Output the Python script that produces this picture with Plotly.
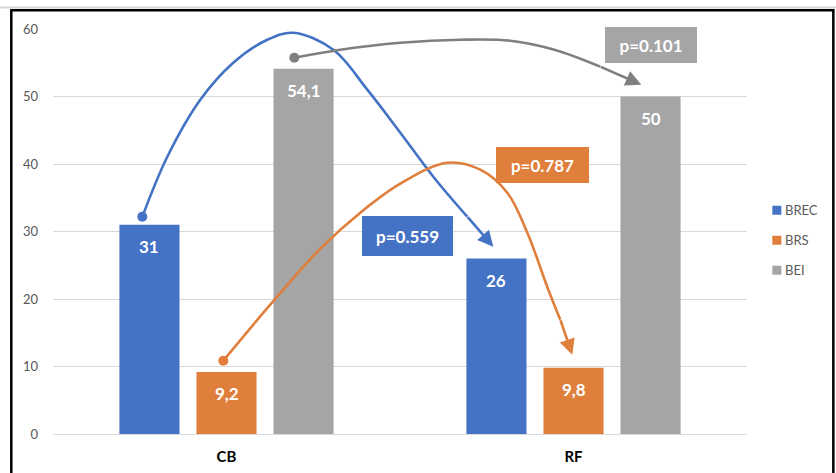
import plotly.graph_objects as go

# ---- data -------------------------------------------------------------
categories = ["CB", "RF"]
series_names = ["BREC", "BRS", "BEI"]
brec = [31, 26]
brs = [9.2, 9.8]
bei = [54.1, 50]
series_values = [brec, brs, bei]
bar_colors = ["#4472C4", "#E07E3C", "#A5A5A5"]

y_ticks = [0, 10, 20, 30, 40, 50, 60]

# comparison arcs (x = category position, y = value scale); last point is the arrow tip
brec_arc_x = [-0.2426, -0.1706, -0.0755, 0.0196, 0.1176, 0.1925, 0.3078, 0.4058, 0.5009, 0.5960, 0.6939, 0.7689]
brec_arc_y = [32.19, 41.08, 49.53, 55.01, 58.41, 59.44, 56.93, 51.01, 44.64, 38.12, 32.19, 27.75]

brs_arc_x = [-0.0092, 0.1262, 0.2703, 0.3856, 0.5009, 0.6363, 0.7314, 0.8092, 0.8669, 0.9274, 0.9620, 0.9965]
brs_arc_y = [10.86, 19.16, 27.46, 32.79, 37.09, 40.19, 39.16, 35.75, 29.82, 21.38, 16.93, 11.75]

bei_arc_x = [0.1954, 0.3280, 0.5009, 0.6738, 0.8179, 0.9475, 1.0772, 1.1954]
bei_arc_y = [55.75, 56.93, 57.96, 58.41, 58.27, 56.90, 54.42, 51.75]

arc_colors = ["#4472C4", "#E07E3C", "#7F7F7F"]

p_labels = ["p=0.559", "p=0.787", "p=0.101"]
p_label_x = [0.5225, 0.9115, 1.224]
p_label_y = [29.4, 39.9, 57.7]
p_label_colors = ["#4472C4", "#E07E3C", "#A5A5A5"]

FONT = "Lato"
BARGAP = 0.334
BARGROUPGAP = 0.22

fig = go.Figure()

# ---- bars -------------------------------------------------------------
for name, vals, col in zip(series_names, series_values, bar_colors):
    fig.add_trace(go.Bar(
        x=list(range(len(categories))), y=vals, name=name,
        marker=dict(color=col, line=dict(width=0)),
        showlegend=False, hoverinfo="skip",
    ))

# value labels just inside the top of each bar
slot = (1 - BARGAP) / len(series_names)
annotations = []
for i, vals in enumerate(series_values):
    for j, v in enumerate(vals):
        annotations.append(dict(
            x=j + (i - 1) * slot, y=v, xref="x", yref="y",
            text=f"{v:g}".replace(".", ","), showarrow=False,
            yanchor="middle", yshift=-22,
            font=dict(family=FONT, size=17, color="white", weight="bold"),
        ))

# ---- arcs with start dot and arrow head -------------------------------
for ax_, ay_, col in [(brec_arc_x, brec_arc_y, arc_colors[0]),
                      (brs_arc_x, brs_arc_y, arc_colors[1]),
                      (bei_arc_x, bei_arc_y, arc_colors[2])]:
    fig.add_trace(go.Scatter(
        x=ax_[:-1], y=ay_[:-1], mode="lines",
        line=dict(color=col, width=2.6, shape="spline", smoothing=1.0),
        showlegend=False, hoverinfo="skip",
    ))
    fig.add_trace(go.Scatter(
        x=[ax_[0]], y=[ay_[0]], mode="markers",
        marker=dict(color=col, size=10),
        showlegend=False, hoverinfo="skip",
    ))
    annotations.append(dict(
        x=ax_[-1], y=ay_[-1], ax=ax_[-2], ay=ay_[-2],
        xref="x", yref="y", axref="x", ayref="y",
        text="", font=dict(size=1), borderpad=0,
        showarrow=True, arrowhead=2, arrowsize=1.2,
        arrowwidth=2.6, arrowcolor=col, standoff=0, startstandoff=0,
    ))

# ---- p-value boxes ----------------------------------------------------
box_w = [91, 93, 92]
box_h = [40, 36, 36]
for txt, x, y, col, w, h in zip(p_labels, p_label_x, p_label_y, p_label_colors, box_w, box_h):
    annotations.append(dict(
        x=x, y=y, xref="x", yref="y", text=txt, showarrow=False,
        bgcolor=col, width=w, height=h, borderpad=0, borderwidth=0,
        xanchor="center", yanchor="middle", align="center", valign="middle",
        font=dict(family=FONT, size=17, color="white", weight="bold"),
    ))

# ---- legend (right side) ----------------------------------------------
shapes = []
legend_y = [0.5525, 0.4784, 0.4044]
for name, col, ly in zip(series_names, bar_colors, legend_y):
    shapes.append(dict(type="rect", xref="paper", yref="paper",
                       x0=1.0365, x1=1.0495, y0=ly - 0.0111, y1=ly + 0.0111,
                       fillcolor=col, line=dict(width=0)))
    annotations.append(dict(
        x=1.052, y=ly, xref="paper", yref="paper", text=name,
        showarrow=False, xanchor="left", yanchor="middle",
        font=dict(family=FONT, size=13, color="#595959"),
    ))

# outer frame
shapes.append(dict(type="line", xref="paper", yref="paper",
                   x0=-0.09, x1=1.2, y0=1.053, y1=1.053,
                   line=dict(color="#D6D6D6", width=2)))
shapes.append(dict(type="rect", xref="paper", yref="paper",
                   x0=-0.0601, x1=1.1244, y0=-0.2, y1=1.0465,
                   line=dict(color="black", width=2.5)))

fig.update_layout(
    width=836, height=473,
    margin=dict(l=53, r=89, t=29, b=39),
    paper_bgcolor="white", plot_bgcolor="white",
    barmode="group", bargap=BARGAP, bargroupgap=BARGROUPGAP,
    font=dict(family=FONT, size=13, color="#595959"),
    annotations=annotations, shapes=shapes,
    xaxis=dict(
        range=[-0.5, 1.5], tickvals=list(range(len(categories))), ticktext=categories,
        showgrid=False, zeroline=False, showline=True, linecolor="#D9D9D9", linewidth=1,
        ticks="", ticklabelstandoff=9, automargin=False,
        tickfont=dict(family=FONT, size=15, color="black", weight="bold"),
    ),
    yaxis=dict(
        range=[0, 60], tickvals=y_ticks, showgrid=True, gridcolor="#D9D9D9", gridwidth=1,
        zeroline=False, showline=False, ticks="", ticklabelstandoff=14, automargin=False,
        tickfont=dict(family=FONT, size=13, color="#595959"),
    ),
)

fig.write_html("out.html")
